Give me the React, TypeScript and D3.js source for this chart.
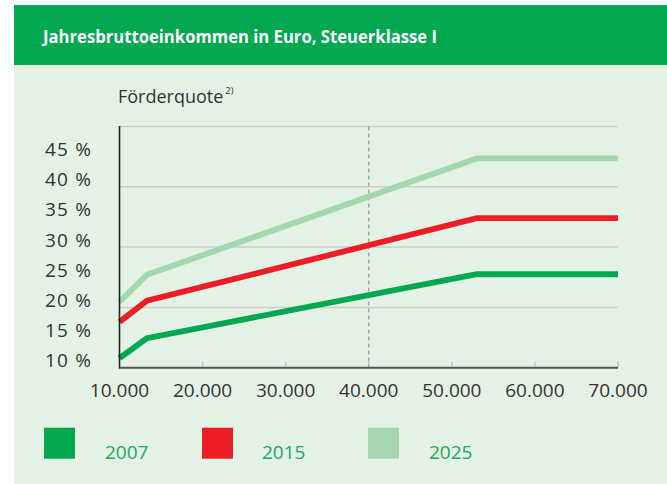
import React from "react";
import * as d3 from "d3";

const incomes = [10000, 13300, 53000, 70000];
const series2007 = [11.6, 14.9, 25.5, 25.5];
const series2015 = [17.6, 21.1, 34.8, 34.8];
const series2025 = [20.9, 25.4, 44.7, 44.7];
const seriesNames = ["2007", "2015", "2025"];
const seriesColors = ["#00a84f", "#ee1c25", "#a4d6b0"];
const xTicks = [10000, 20000, 30000, 40000, 50000, 60000, 70000];
const yTickLabels = [10, 15, 20, 25, 30, 35, 40, 45];
const gridValues = [20, 30, 40, 50];
const title = "Jahresbruttoeinkommen in Euro, Steuerklasse I";
const yTitle = "Förderquote";

const W = 667;
const H = 484;
const FONT = "'Open Sans', 'Noto Sans', sans-serif";

export default function App() {
  const x = d3.scaleLinear().domain([10000, 70000]).range([119.5, 618]);
  const y = d3.scaleLinear().domain([10, 50]).range([367.7, 126.5]);
  const line = d3
    .line<number>()
    .x((_, i) => x(incomes[i]))
    .y((d) => y(d));
  const all = [series2007, series2015, series2025];
  const fmt = (v: number) => d3.format(",")(v).replace(/,/g, ".");

  return (
    <svg
      width={W}
      height={H}
      style={{ position: "absolute", left: 0, top: 0, fontFamily: FONT }}
    >
      <rect x={0} y={0} width={W} height={H} fill="#ffffff" />
      <rect x={14} y={5} width={W - 14} height={60} fill="#00a850" />
      <rect x={14} y={65} width={W - 14} height={H - 65} fill="#e4f2e5" />
      <text
        x={43}
        y={42.7}
        fill="#ffffff"
        fontWeight={700}
        fontSize={18.5}
        textLength={394}
        lengthAdjust="spacingAndGlyphs"
      >
        {title}
      </text>
      <text x={118} y={103.3} fill="#333" fontSize={18}>
        {yTitle}
        <tspan fontSize={9.5} dy={-9} dx={2}>
          2)
        </tspan>
      </text>

      {gridValues.map((g) => (
        <line
          key={g}
          x1={x(10000)}
          x2={x(70000)}
          y1={y(g)}
          y2={y(g)}
          stroke="#cdcdcd"
          strokeWidth={1.5}
        />
      ))}
      {xTicks.slice(1).map((t) => (
        <line
          key={t}
          x1={x(t)}
          x2={x(t)}
          y1={y(10)}
          y2={y(10) - 6}
          stroke="#c4c4c4"
          strokeWidth={1.5}
        />
      ))}
      <line
        x1={x(40000)}
        x2={x(40000)}
        y1={y(50)}
        y2={y(10)}
        stroke="#a8a8a8"
        strokeWidth={1.5}
        strokeDasharray="4 3"
      />
      {all.map((s, i) => (
        <path
          key={i}
          d={line(s) || ""}
          fill="none"
          stroke={seriesColors[i]}
          strokeWidth={5.8}
          strokeLinejoin="miter"
        />
      ))}
      <line
        x1={x(10000)}
        x2={x(10000)}
        y1={y(50) - 0.5}
        y2={y(10) + 1}
        stroke="#222"
        strokeWidth={1.6}
      />
      <line
        x1={x(10000)}
        x2={x(70000)}
        y1={y(10)}
        y2={y(10)}
        stroke="#555"
        strokeWidth={2}
      />

      {yTickLabels.map((v) => (
        <text
          key={v}
          x={91}
          y={y(v) - 0.5}
          textAnchor="end"
          fill="#333"
          fontSize={19}
          textLength={46}
          lengthAdjust="spacing"
        >
          {v} %
        </text>
      ))}
      {xTicks.map((t) => (
        <text
          key={t}
          x={x(t)}
          y={397}
          textAnchor="middle"
          fill="#333"
          fontSize={19}
        >
          {fmt(t)}
        </text>
      ))}

      {seriesNames.map((n, i) => {
        const sx = [44, 202, 368][i];
        const tx = [105, 262, 429][i];
        return (
          <g key={n}>
            <rect x={sx} y={427.7} width={31} height={31} fill={seriesColors[i]} />
            <text x={tx} y={459} fill="#1aa85a" fontSize={19}>
              {n}
            </text>
          </g>
        );
      })}
    </svg>
  );
}
